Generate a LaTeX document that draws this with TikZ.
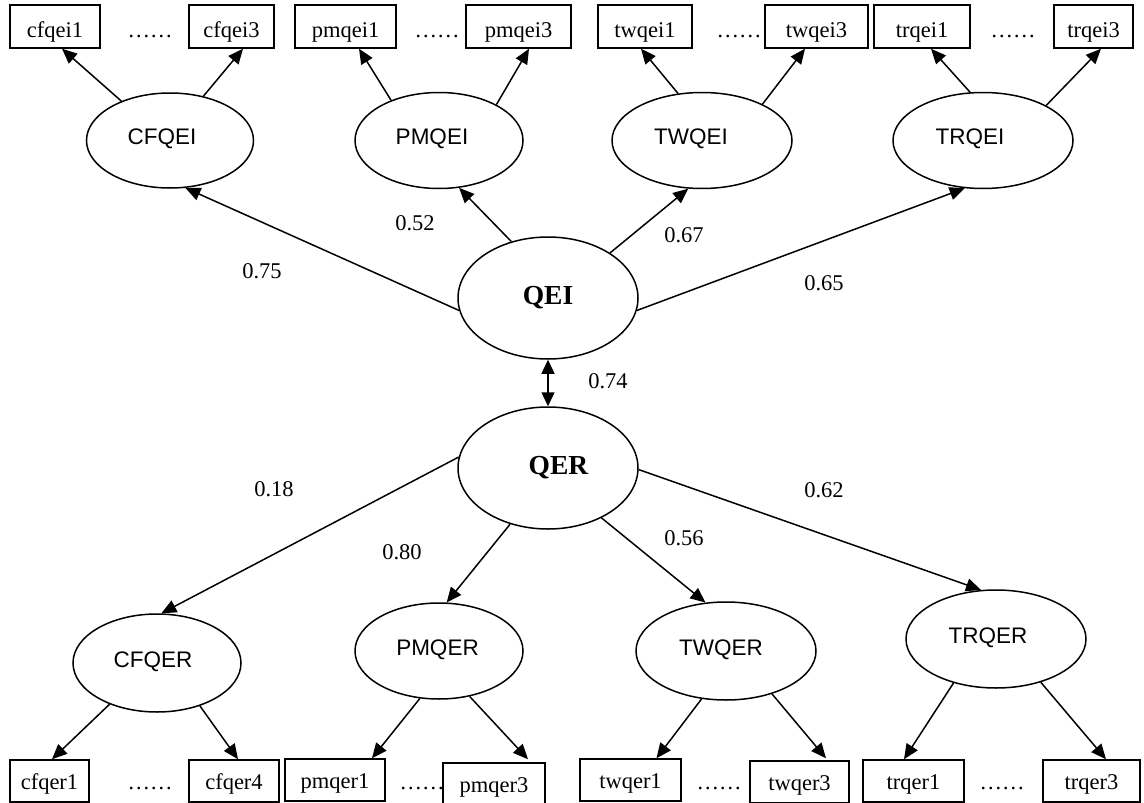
\documentclass[tikz,border=0pt]{standalone}
\usepackage{fontspec}
\setmainfont{Liberation Serif}
\newfontfamily\arialf{Liberation Sans}
\usetikzlibrary{arrows.meta,calc,shapes.geometric}
\begin{document}
\begin{tikzpicture}[x=1pt,y=-1pt,
  ell/.style={draw, ellipse, line width=1.5pt, inner sep=0pt, font=\fontsize{22.5}{27}\arialf, text height=16pt, text depth=8pt},
  bigell/.style={draw, ellipse, line width=1.5pt, inner sep=0pt, font=\fontsize{27.5}{32}\selectfont\bfseries, minimum width=180pt, minimum height=122pt},
  topbox/.style={draw, line width=1.5pt, inner sep=0pt, minimum height=43pt, text height=27pt, text depth=6pt, font=\fontsize{22.5}{27}\selectfont},
  botbox/.style={draw, line width=1.5pt, inner sep=0pt, minimum height=42pt, text height=22pt, text depth=6pt, font=\fontsize{22.5}{27}\selectfont},
  dotsn/.style={font=\fontsize{22.5}{27}\selectfont, inner sep=0pt, anchor=base},
  lab/.style={font=\fontsize{22.5}{27}\selectfont, inner sep=0pt},
  arr/.style={line width=1.5pt, -{Triangle[length=15pt,width=13pt]}},
  biarr/.style={line width=1.5pt, {Triangle[length=14pt,width=13pt]}-{Triangle[length=14pt,width=13pt]}},
]
\useasboundingbox (0,0) rectangle (1144,803);

% top boxes
\node[topbox, minimum width=90pt]  (cfqei1) at (55,26.5) {cfqei1};
\node[topbox, minimum width=85pt]  (cfqei3) at (231.5,26.5) {cfqei3};
\node[topbox, minimum width=101pt] (pmqei1) at (345.5,26.5) {pmqei1};
\node[topbox, minimum width=105pt] (pmqei3) at (518.5,26.5) {pmqei3};
\node[topbox, minimum width=94pt]  (twqei1) at (645,26.5) {twqei1};
\node[topbox, minimum width=103pt] (twqei3) at (816.5,26.5) {twqei3};
\node[topbox, minimum width=96pt]  (trqei1) at (922,26.5) {trqei1};
\node[topbox, minimum width=79pt]  (trqei3) at (1093.5,26.5) {trqei3};

\node[dotsn] (d1) at (150,37) {……};
\node[dotsn] (d2) at (437,37) {……};
\node[dotsn] (d3) at (739,37) {……};
\node[dotsn] (d4) at (1013,37) {……};

% top ellipses
\node[ell, minimum width=167pt, minimum height=95pt] (CFQEI) at (170,140.5) {CFQEI\kern16pt};
\node[ell, minimum width=168pt, minimum height=96pt] (PMQEI) at (439,140.5) {PMQEI\kern14pt};
\node[ell, minimum width=180pt, minimum height=96pt] (TWQEI) at (702,140.5) {TWQEI\kern22pt};
\node[ell, minimum width=180pt, minimum height=96pt] (TRQEI) at (983,140.5) {TRQEI\kern26pt};

% central
\node[bigell] (QEI) at (548,298) {QEI};
\node[bigell] (QER) at (548,468) {\kern21pt QER};

% bottom ellipses
\node[ell, minimum width=168pt, minimum height=98pt] (CFQER) at (157,663) {CFQER\kern8pt};
\node[ell, minimum width=168pt, minimum height=96pt] (PMQER) at (439,651) {PMQER\kern3pt};
\node[ell, minimum width=180pt, minimum height=98pt] (TWQER) at (726,651) {TWQER\kern10pt};
\node[ell, minimum width=180pt, minimum height=98pt] (TRQER) at (996,639) {TRQER\kern16pt};

% bottom boxes
\node[botbox, minimum width=79pt]  (cfqer1) at (49.5,781) {cfqer1};
\node[botbox, minimum width=90pt]  (cfqer4) at (234,781) {cfqer4};
\node[botbox, minimum width=100pt] (pmqer1) at (335,780) {pmqer1};
\node[botbox, minimum width=102pt] (pmqer3) at (494,784) {pmqer3};
\node[botbox, minimum width=101pt] (twqer1) at (630.5,780) {twqer1};
\node[botbox, minimum width=99pt]  (twqer3) at (799.5,782) {twqer3};
\node[botbox, minimum width=101pt] (trqer1) at (913.5,781) {trqer1};
\node[botbox, minimum width=97pt]  (trqer3) at (1091.5,781) {trqer3};

\node[dotsn] (e1) at (150,789) {……};
\node[dotsn] (e2) at (422,789) {……};
\node[dotsn] (e3) at (719,789) {……};
\node[dotsn] (e4) at (1002,789) {……};

% top ellipse -> indicator arrows
\draw[arr] (CFQEI.141) -- ($(cfqei1.south)+(7,0)$);
\draw[arr] (CFQEI.53)  -- ($(cfqei3.south)+(11.5,0)$);
\draw[arr] (PMQEI.140) -- ($(pmqei1.south)+(13.5,0)$);
\draw[arr] (PMQEI.32)  -- ($(pmqei3.south)+(10.5,0)$);
\draw[arr] (TWQEI.117) -- ($(twqei1.south)+(-4,0)$);
\draw[arr] (TWQEI.31)  -- ($(twqei3.south)+(-11.5,0)$);
\draw[arr] (TRQEI.105) -- ($(trqei1.south)+(9,0)$);
\draw[arr] (TRQEI.29)  -- ($(trqei3.south)+(7.5,0)$);

% QEI -> first order
\draw[arr] (QEI.188) -- (CFQEI.288);
\draw[arr] (QEI.123) -- (PMQEI.293);
\draw[arr] (QEI.36)  -- (TWQEI.254);
\draw[arr] (QEI.352) -- (TRQEI.249);

\draw[biarr] (QEI.south) -- (QER.north);

% QER -> first order
\draw[arr] (QER.173) -- (CFQER.85);
\draw[arr] (QER.236) -- (PMQER.81);
\draw[arr] (QER.317) -- (TWQER.113);
\draw[arr] (QER.359) -- (TRQER.107);

% bottom ellipse -> indicator arrows
\draw[arr] (CFQER.221) -- ($(cfqer1.north)+(2.5,0)$);
\draw[arr] (CFQER.315) -- ($(cfqer4.north)+(4,0)$);
\draw[arr] (PMQER.248) -- ($(pmqer1.north)+(37,0)$);
\draw[arr] (PMQER.304) -- ($(pmqer3.north)+(34,-3)$);
\draw[arr] (TWQER.243) -- ($(twqer1.north)+(26,0)$);
\draw[arr] (TWQER.317) -- ($(twqer3.north)+(26.5,-2)$);
\draw[arr] (TRQER.226) -- ($(trqer1.north)+(-9.5,0)$);
\draw[arr] (TRQER.316) -- ($(trqer3.north)+(14.5,0)$);

% labels
\node[lab] (l75) at (262,271) {0.75};
\node[lab] (l52) at (415,223) {0.52};
\node[lab] (l67) at (684,235) {0.67};
\node[lab] (l65) at (824,283) {0.65};
\node[lab] (l74) at (608,381) {0.74};
\node[lab] (l18) at (274,489) {0.18};
\node[lab] (l62) at (824,490) {0.62};
\node[lab] (l80) at (402,552) {0.80};
\node[lab] (l56) at (684,538) {0.56};
\end{tikzpicture}
\end{document}
